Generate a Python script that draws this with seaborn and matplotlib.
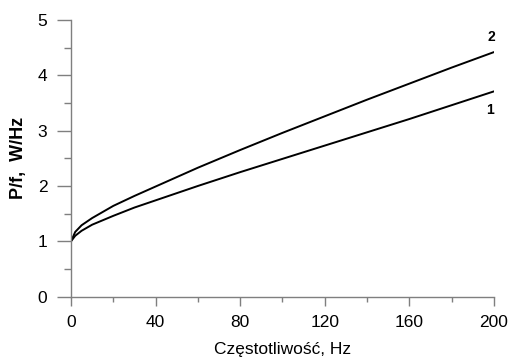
import matplotlib
matplotlib.use("Agg")
import matplotlib.pyplot as plt
import pandas as pd
import seaborn as sns
from matplotlib.ticker import MultipleLocator

# frequency, Hz
freq = [0, 2, 5, 10, 20, 30, 40, 60, 80, 100, 120, 140, 160, 180, 200]
# P/f for the two curves, W/Hz
curve_1 = [1.0, 1.10, 1.19, 1.30, 1.46, 1.61, 1.74, 2.00, 2.25, 2.49, 2.73, 2.97, 3.21, 3.46, 3.71]
curve_2 = [1.0, 1.17, 1.29, 1.42, 1.64, 1.82, 1.99, 2.33, 2.65, 2.96, 3.26, 3.56, 3.85, 4.14, 4.42]
curve_names = ["1", "2"]

df = pd.DataFrame({
    "f": freq * 2,
    "Pf": curve_1 + curve_2,
    "curve": [curve_names[0]] * len(freq) + [curve_names[1]] * len(freq),
})

sns.set_style("ticks")
plt.rcParams["font.family"] = ["Liberation Sans", "DejaVu Sans"]
plt.rcParams["text.color"] = "black"
plt.rcParams["axes.labelcolor"] = "black"
plt.rcParams["xtick.labelcolor"] = "black"
plt.rcParams["ytick.labelcolor"] = "black"

fig = plt.figure(figsize=(5.12, 3.58), dpi=100)
ax = fig.add_axes([0.1387, 0.1715, 0.826, 0.7726])

sns.lineplot(data=df, x="f", y="Pf", hue="curve", palette=["black", "black"],
             linewidth=1.4, legend=False, ax=ax)

ax.set_xlim(0, 200)
ax.set_ylim(0, 5)
ax.xaxis.set_major_locator(MultipleLocator(40))
ax.xaxis.set_minor_locator(MultipleLocator(20))
ax.yaxis.set_major_locator(MultipleLocator(1))
ax.yaxis.set_minor_locator(MultipleLocator(0.5))

gray = "#7f7f7f"
for s in ["top", "right"]:
    ax.spines[s].set_visible(False)
for s in ["left", "bottom"]:
    ax.spines[s].set_color(gray)
    ax.spines[s].set_linewidth(1.0)

ax.tick_params(axis="y", which="major", length=10, width=1, color=gray,
               labelsize=12.5, pad=7, labelcolor="black")
ax.tick_params(axis="y", which="minor", length=5.4, width=1, color=gray)
ax.tick_params(axis="x", which="major", length=6.3, width=1, color=gray,
               labelsize=12.5, pad=7, labelcolor="black")
ax.tick_params(axis="x", which="minor", length=3.3, width=1, color=gray)

ax.set_xlabel("Częstotliwość, Hz", fontsize=12.5, color="black")
ax.set_ylabel("P/f,  W/Hz", fontsize=13, fontweight="bold", color="black")
ax.xaxis.set_label_coords(0.5, -0.165)
ax.yaxis.set_label_coords(-0.104, 0.5)

ax.text(199, 4.685, curve_names[1], fontsize=10, fontweight="bold",
        ha="center", va="center", color="black")
ax.text(198.1, 3.38, curve_names[0], fontsize=10, fontweight="bold",
        ha="center", va="center", color="black")

fig.savefig("out.png", dpi=100)
